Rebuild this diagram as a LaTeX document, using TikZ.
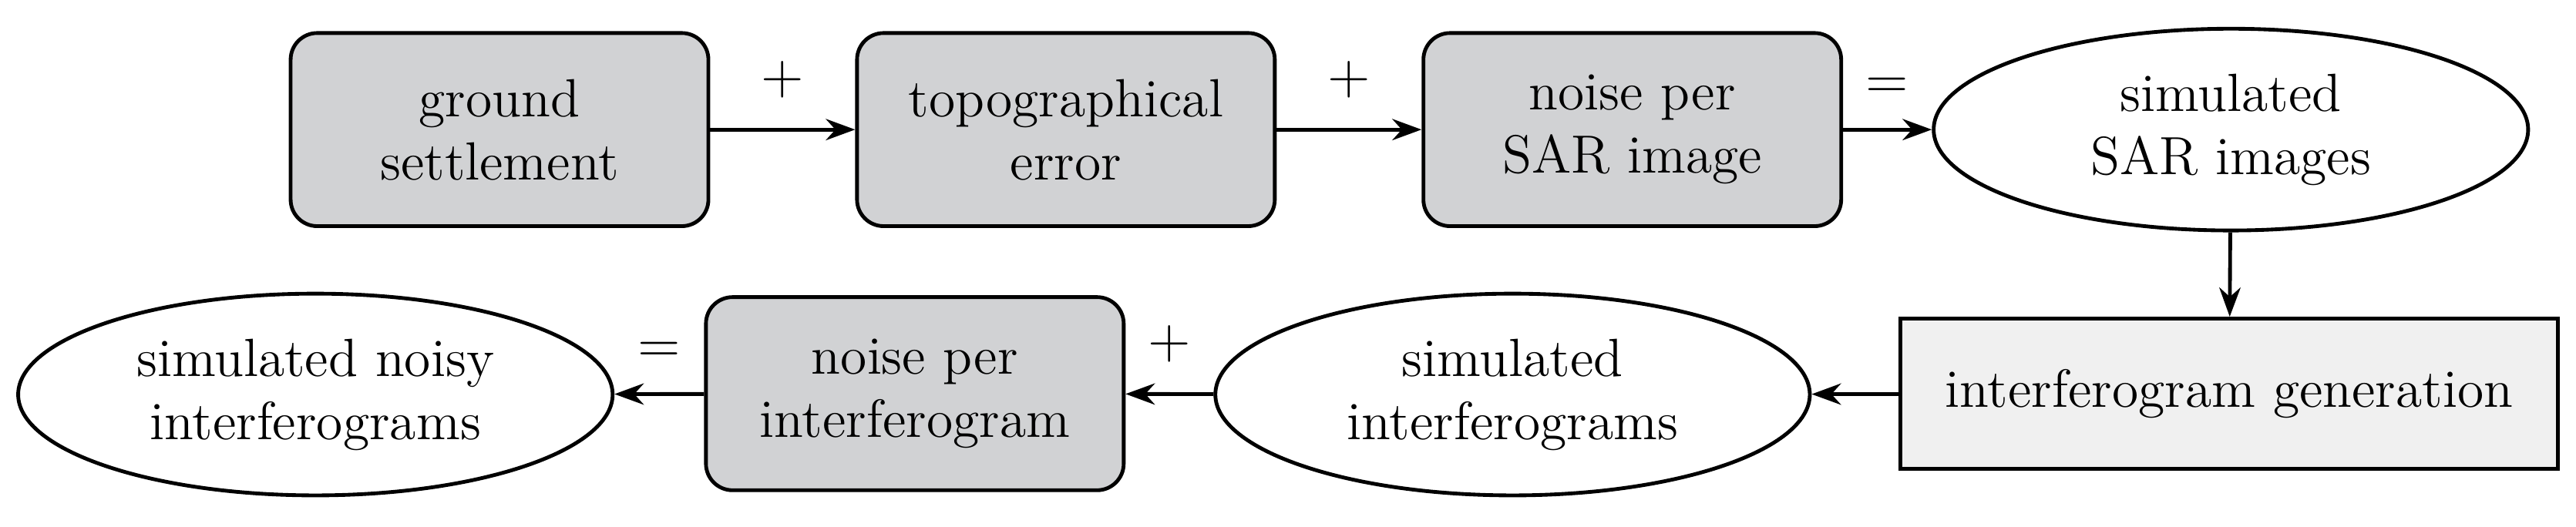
\documentclass[tikz,border=0pt]{standalone}
\usetikzlibrary{shapes.geometric,arrows.meta}
\definecolor{boxgray}{HTML}{D1D2D4}
\definecolor{lightgray2}{HTML}{F0F0F0}
\begin{document}
\begin{tikzpicture}[x=0.0124cm,y=-0.0124cm,
  every node/.style={font=\fontsize{11.5}{13.5}\selectfont, align=center},
  gbox/.style={draw, thick, fill=boxgray, rounded corners=0.2cm, minimum width=253*0.0124cm, minimum height=117*0.0124cm},
  ell/.style={draw, thick, ellipse, minimum width=360*0.0124cm, minimum height=112*0.0124cm},
  arr/.style={-{Stealth[length=2.2mm,width=1.6mm]}, thick}]
\useasboundingbox (0,0) rectangle (1560,319);
\node[gbox] (gs) at (302.5,78.5) {ground\\settlement};
\node[gbox] (te) at (645.5,78.5) {topographical\\error};
\node[gbox] (ns) at (988.5,78.5) {noise per\\SAR image};
\node[ell] (sar) at (1351,78.5) {simulated\\SAR images};
\node[draw, thick, fill=lightgray2, minimum width=398*0.0124cm, minimum height=91*0.0124cm] (ig) at (1350,238.5) {interferogram generation};
\node[ell] (si) at (916,239) {simulated\\interferograms};
\node[gbox] (ni) at (554,238.5) {noise per\\interferogram};
\node[ell] (sn) at (191,239) {simulated noisy\\interferograms};
\draw[arr] (gs) -- node[above=3pt]{$+$} (te);
\draw[arr] (te) -- node[above=3pt]{$+$} (ns);
\draw[arr] (ns) -- node[above=3pt]{$=$} (sar);
\draw[arr] (sar) -- (ig);
\draw[arr] (ig) -- (si);
\draw[arr] (si) -- node[above=3pt]{$+$} (ni);
\draw[arr] (ni) -- node[above=3pt]{$=$} (sn);
\end{tikzpicture}
\end{document}
